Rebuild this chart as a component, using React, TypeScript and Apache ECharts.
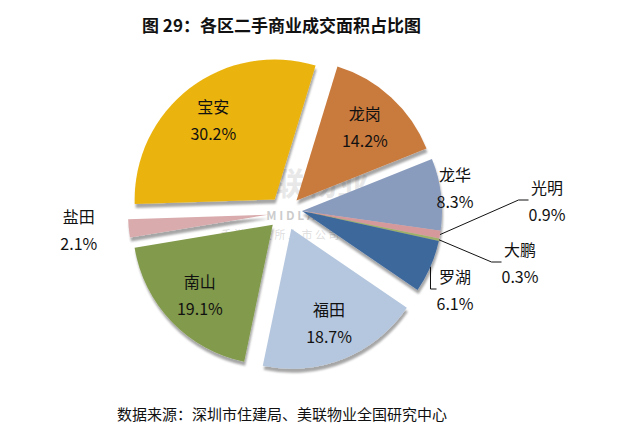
import React, { useEffect, useRef } from 'react';
import * as echarts from 'echarts';

const categories = ['龙岗', '龙华', '光明', '大鹏', '罗湖', '福田', '南山', '盐田', '宝安'];
const shares = [14.2, 8.3, 0.9, 0.3, 6.1, 18.7, 19.1, 2.1, 30.2];
const colors = ['#C97A3C', '#8A9CBD', '#D6999B', '#9DB06A', '#3E679C', '#B5C7DE', '#829A4C', '#D9ABAD', '#EBB30C'];
const clusterNames = ['龙华', '光明', '大鹏', '罗湖'];
const insideLabelNames = ['龙岗', '福田', '南山', '宝安'];
const noLineNames = ['龙华', '盐田'];
const titleText = '图 29：各区二手商业成交面积占比图';
const sourceText = '数据来源：深圳市住建局、美联物业全国研究中心';

const outsideLabelPos: Record<string, [number, number]> = {
  '龙华': [455, 187],
  '光明': [547, 200],
  '大鹏': [520, 262],
  '罗湖': [455, 289],
  '盐田': [100, 219],
};

const FONT = '"Noto Sans CJK SC", "Microsoft YaHei", sans-serif';
const clear = 'rgba(0,0,0,0)';

const labelBase = {
  formatter: (p: any) => `${p.name}\n${Number(p.value).toFixed(1)}%`,
  fontFamily: FONT,
  fontSize: 16,
  lineHeight: 27,
  color: '#111',
};

function layoutFn(params: any) {
  const name = categories[params.dataIndex];
  const p = outsideLabelPos[name];
  if (!p) return {};
  return { x: p[0], y: p[1], align: 'center', verticalAlign: 'middle' };
}

export default function App() {
  const ref = useRef<HTMLDivElement>(null);
  useEffect(() => {
    if (!ref.current) return;
    const chart = echarts.init(ref.current, undefined, { renderer: 'svg' });

    const shadow = {
      shadowColor: 'rgba(0,0,0,0.35)',
      shadowBlur: 2,
      shadowOffsetX: 1,
      shadowOffsetY: 4,
    };

    const clusterData = categories.map((name, i) => {
      const inCluster = clusterNames.includes(name);
      return {
        name,
        value: shares[i],
        itemStyle: inCluster
          ? { color: colors[i], ...shadow }
          : { color: clear, shadowColor: clear },
        label: { show: inCluster },
        labelLine: { show: inCluster && !noLineNames.includes(name) },
      };
    });

    const mainData = categories.map((name, i) => {
      const inCluster = clusterNames.includes(name);
      const outside = !inCluster && !insideLabelNames.includes(name);
      return {
        name,
        value: shares[i],
        selected: !inCluster,
        itemStyle: inCluster
          ? { color: clear, shadowColor: clear }
          : { color: colors[i], ...shadow },
        label: { show: outside },
        labelLine: { show: outside && !noLineNames.includes(name) },
      };
    });

    const labelData = categories.map((name, i) => {
      const inCluster = clusterNames.includes(name);
      return {
        name,
        value: shares[i],
        selected: !inCluster,
        itemStyle: { color: clear },
        label: { show: insideLabelNames.includes(name) },
      };
    });

    chart.setOption({
      animation: false,
      title: {
        text: titleText,
        left: 137,
        top: 11,
        textStyle: { fontFamily: FONT, fontSize: 17, fontWeight: 'bold', color: '#111' },
      },
      graphic: [
        {
          type: 'text',
          left: 117,
          top: 406,
          style: { text: sourceText, font: `15px ${FONT}`, fill: '#111' },
        },
        {
          type: 'text',
          x: 305,
          y: 181,
          z: -10,
          style: {
            text: '美联物业',
            font: `bold 32px ${FONT}`,
            fill: 'rgba(190,190,190,0.35)',
            align: 'center',
            verticalAlign: 'middle',
          },
        },
        {
          type: 'text',
          x: 302,
          y: 214,
          z: -10,
          style: {
            text: 'M I D L A N D',
            font: `bold 12px ${FONT}`,
            fill: 'rgba(170,170,170,0.6)',
            align: 'center',
            verticalAlign: 'middle',
          },
        },
        {
          type: 'text',
          x: 280,
          y: 234,
          z: -10,
          style: {
            text: '香 港 联 交 所 上 市 公 司',
            font: `11px ${FONT}`,
            fill: 'rgba(180,180,180,0.45)',
            align: 'center',
            verticalAlign: 'middle',
          },
        },
      ],
      series: [
        {
          type: 'pie',
          name: 'cluster',
          center: [302, 211],
          radius: [0, 140],
          startAngle: 73,
          clockwise: true,
          silent: true,
          avoidLabelOverlap: false,
          data: clusterData,
          label: { ...labelBase, position: 'outside' },
          labelLine: { lineStyle: { color: '#111', width: 1 }, length: 10, length2: 10 },
          labelLayout: layoutFn,
          emphasis: { disabled: true },
        },
        {
          type: 'pie',
          name: 'main',
          center: [285, 213],
          radius: [0, 140],
          startAngle: 73,
          clockwise: true,
          silent: true,
          selectedMode: 'multiple',
          selectedOffset: 17,
          avoidLabelOverlap: false,
          data: mainData,
          label: { ...labelBase, position: 'outside' },
          labelLine: { lineStyle: { color: '#111', width: 1 } },
          labelLayout: layoutFn,
          emphasis: { disabled: true },
        },
        {
          type: 'pie',
          name: 'labels',
          center: [285, 213],
          radius: [56, 140],
          startAngle: 73,
          clockwise: true,
          silent: true,
          selectedMode: 'multiple',
          selectedOffset: 17,
          avoidLabelOverlap: false,
          data: labelData,
          label: { ...labelBase, position: 'inside' },
          labelLine: { show: false },
          emphasis: { disabled: true },
          z: 5,
        },
      ],
    });
    return () => chart.dispose();
  }, []);

  return (
    <div
      ref={ref}
      style={{ position: 'fixed', left: 0, top: 0, width: 620, height: 437, background: '#fff' }}
    />
  );
}
